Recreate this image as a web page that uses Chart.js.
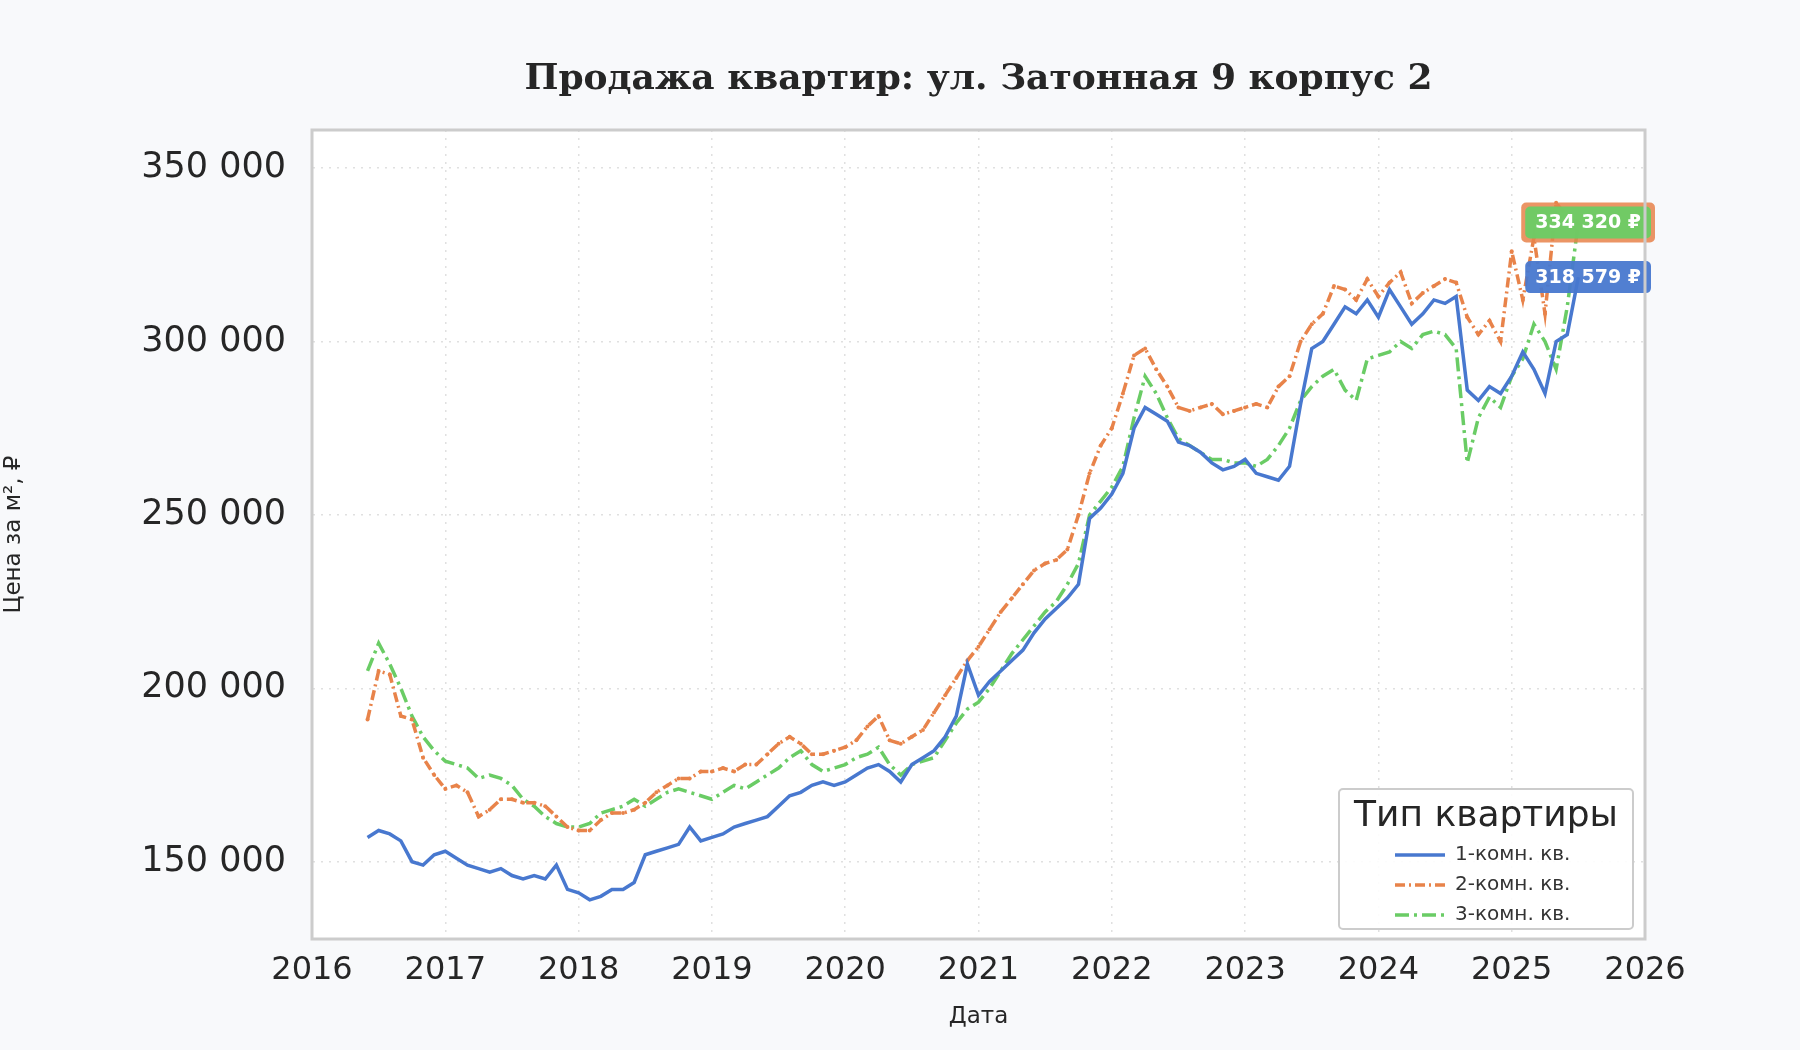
<!DOCTYPE html>
<html><head><meta charset="utf-8">
<script src="https://cdn.jsdelivr.net/npm/chart.js@4.4.1/dist/chart.umd.min.js"></script>
<style>html,body{margin:0;background:#f8f9fb}#w{width:1800px;height:1050px}</style>
</head><body><div id="w"><canvas id="c"></canvas></div>
<script>
const startYear = 2016, startMonth = 6;
const seriesNames = ['1-комн. кв.', '2-комн. кв.', '3-комн. кв.'];
const room1 = [157,159,158,156,150,149,152, 153,151,149,148,147,148,146,145,146,145,149,142, 141,139,140,142,142,144,152,153,154,155,160,156, 157,158,160,161,162,163,166,169,170,172,173,172, 173,175,177,178,176,173,178,180,182,186,192,207, 198,202,205,208,211,216,220,223,226,230,249,252, 256,262,275,281,279,277,271,270,268,265,263,264, 266,262,261,260,264,282,298,300,305,310,308,312, 307,315,310,305,308,312,311,313,286,283,287,285, 290,297,292,285,300,302,318.579];
const room2 = [191,205,204,192,191,180,175, 171,172,170,163,165,168,168,167,167,166,163,160, 159,159,162,164,164,165,167,170,172,174,174,176, 176,177,176,178,178,181,184,186,184,181,181,182, 183,185,189,192,185,184,186,188,193,198,203,208, 212,217,222,226,230,234,236,237,240,250,262,270, 275,285,296,298,292,287,281,280,281,282,279,280, 281,282,281,287,290,300,305,308,316,315,312,318, 313,317,320,311,314,316,318,317,307,302,306,300, 326,312,330,308,340,336,334.32];
const room3 = [205,213,207,200,192,186,182, 179,178,177,174,175,174,172,168,166,163,161,160, 160,161,164,165,166,168,166,168,170,171,170,169, 168,170,172,171,173,175,177,180,182,178,176,177, 178,180,181,183,178,175,178,179,180,185,190,194, 196,200,205,210,214,218,222,225,230,236,250,254, 258,264,278,290,285,278,272,270,268,266,266,265, 265,264,266,270,275,283,287,290,292,286,283,295, 296,297,300,298,302,303,302,298,265,278,284,281, 290,295,305,300,292,310,334.32];
const xTicks = [2016,2017,2018,2019,2020,2021,2022,2023,2024,2025,2026];
const yTicks = [150000,200000,250000,300000,350000];
const colors = ['#4878cf','#e8834a','#6acc65'];
const titleText = 'Продажа квартир: ул. Затонная 9 корпус 2';

const pts = arr => arr.map((v,i)=>({x:startYear+(startMonth-1+i)/12, y:v*1000}));
const fmt = v => Math.round(v).toString().replace(/\B(?=(\d{3})+(?!\d))/g,' ');

const endLabels = {
  id:'endLabels',
  afterDatasetsDraw(ch){
    const {ctx, chartArea:a, scales:{y}} = ch;
    const items = [[1,room2,6],[2,room3,2],[0,room1,2]];
    ctx.save();
    ctx.font = 'bold 19px "DejaVu Sans"';
    items.forEach(([k,arr,pad])=>{
      const v = arr[arr.length-1]*1000, py = y.getPixelForValue(v);
      const txt = fmt(v)+' ₽', w = ctx.measureText(txt).width+16, h = 28;
      const x0 = a.right - w + 4;
      ctx.fillStyle = colors[k]; ctx.globalAlpha = k==1?0.85:0.95;
      ctx.beginPath(); ctx.roundRect(x0-pad, py-h/2-pad, w+2*pad, h+2*pad, 5); ctx.fill();
      ctx.globalAlpha = 1; ctx.fillStyle = '#fff'; ctx.textBaseline='middle';
      ctx.fillText(txt, x0+8, py+1);
    });
    const lx = a.right-306, ly = a.bottom-150, lw = 294, lh = 140;
    ctx.fillStyle='rgba(255,255,255,0.9)'; ctx.strokeStyle='#cccccc'; ctx.lineWidth=2;
    ctx.beginPath(); ctx.roundRect(lx,ly,lw,lh,4); ctx.fill(); ctx.stroke();
    ctx.fillStyle='#262626'; ctx.font='36px "DejaVu Sans"'; ctx.textAlign='center'; ctx.textBaseline='middle';
    ctx.fillText('Тип квартиры', lx+lw/2, ly+28);
    ctx.textAlign='left'; ctx.font='20px "DejaVu Sans"';
    const dashes=[[],[10,4,2,4],[14,5,3,5]];
    seriesNames.forEach((n,i)=>{
      const yy = ly+66+i*30;
      ctx.strokeStyle=colors[i]; ctx.lineWidth=3.5; ctx.setLineDash(dashes[i]);
      ctx.beginPath(); ctx.moveTo(lx+56,yy); ctx.lineTo(lx+106,yy); ctx.stroke();
      ctx.setLineDash([]); ctx.fillStyle='#333'; ctx.fillText(n, lx+116, yy);
    });
    ctx.restore();
  }
};
const bgPlugin = {
  id:'bg',
  beforeDraw(ch){const {ctx,chartArea:a}=ch;ctx.save();ctx.fillStyle='#fff';ctx.fillRect(a.left,a.top,a.width,a.height);ctx.restore();},
  afterDraw(ch){const {ctx,chartArea:a}=ch;ctx.save();ctx.strokeStyle='#cccccc';ctx.lineWidth=3;ctx.strokeRect(a.left,a.top,a.width,a.height);
    ctx.fillStyle='#262626';ctx.font='bold 36px "DejaVu Serif"';ctx.textAlign='center';ctx.textBaseline='middle';
    ctx.fillText(titleText,(a.left+a.right)/2,80);ctx.restore();}
};
const gridOpt = {color:'#e0e0e0',lineWidth:1.5,drawTicks:false};
const borderOpt = {display:true,color:'rgba(0,0,0,0)',dash:[2,6]};

new Chart(document.getElementById('c'),{
  type:'line',
  data:{datasets:[
    {label:seriesNames[0],data:pts(room1),borderColor:colors[0],borderWidth:3.5,pointRadius:0,tension:0},
    {label:seriesNames[1],data:pts(room2),borderColor:colors[1],borderWidth:3.5,borderDash:[10,4,2,4],pointRadius:2,pointBackgroundColor:colors[1],pointBorderWidth:0,tension:0},
    {label:seriesNames[2],data:pts(room3),borderColor:colors[2],borderWidth:3.5,borderDash:[14,5,3,5],pointRadius:0,tension:0}
  ]},
  options:{
    responsive:true,maintainAspectRatio:false,animation:false,
    layout:{padding:{left:0,right:155,top:130,bottom:15}},
    plugins:{legend:{display:false},tooltip:{enabled:false},title:{display:false}},
    scales:{
      x:{type:'linear',min:2016,max:2026,
        afterBuildTicks(s){s.ticks=xTicks.map(v=>({value:v}));},
        ticks:{color:'#262626',font:{family:'DejaVu Sans',size:32},padding:12,callback:v=>String(v)},
        grid:gridOpt,border:borderOpt,
        title:{display:true,text:'Дата',color:'#262626',font:{family:'DejaVu Sans',size:23},padding:{top:2}}},
      y:{min:127700,max:361000,
        afterBuildTicks(s){s.ticks=yTicks.map(v=>({value:v}));},
        afterFit(s){s.width=312;},
        ticks:{color:'#262626',font:{family:'DejaVu Sans',size:35},padding:26,callback:v=>fmt(v)},
        grid:gridOpt,border:borderOpt,
        title:{display:true,text:'Цена за м², ₽',color:'#262626',font:{family:'DejaVu Sans',size:23},padding:{top:0,bottom:0}}}
    }
  },
  plugins:[bgPlugin,endLabels]
});
</script></body></html>
